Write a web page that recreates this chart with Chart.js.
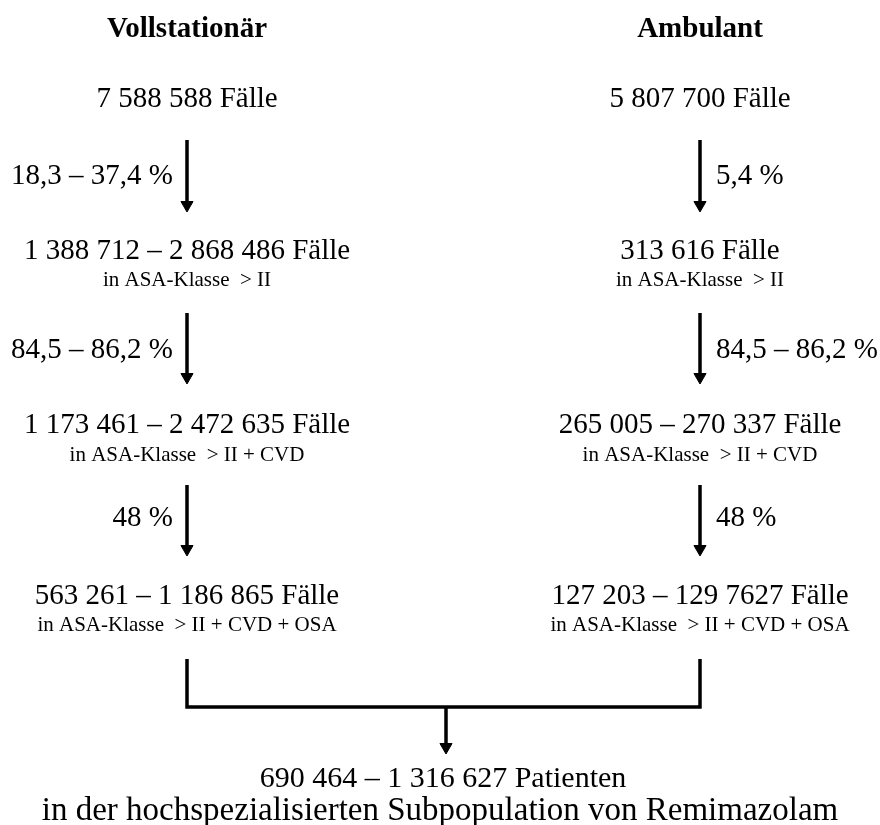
<!DOCTYPE html>
<html>
<head>
<meta charset="utf-8">
<script src="https://cdn.jsdelivr.net/npm/chart.js@4/dist/chart.umd.min.js"></script>
<style>
  html, body { margin: 0; padding: 0; background: #fff; }
  #wrap { width: 880px; height: 825px; }
</style>
</head>
<body>
<div id="wrap"><canvas id="flow"></canvas></div>
<script>
// Flow data
const columnTitles = ['Vollstationär', 'Ambulant'];

const leftCounts = [
    '7 588 588 Fälle',
    '1 388 712 – 2 868 486 Fälle',
    '1 173 461 – 2 472 635 Fälle',
    '563 261 – 1 186 865 Fälle'
];
const rightCounts = [
    '5 807 700 Fälle',
    '313 616 Fälle',
    '265 005 – 270 337 Fälle',
    '127 203 – 129 7627 Fälle'
];
const stepSubtitles = [
    '',
    'in ASA-Klasse  > II',
    'in ASA-Klasse  > II + CVD',
    'in ASA-Klasse  > II + CVD + OSA'
];
const leftRates = ['18,3 – 37,4 %', '84,5 – 86,2 %', '48 %'];
const rightRates = ['5,4 %', '84,5 – 86,2 %', '48 %'];

const totalCount = '690 464 – 1 316 627 Patienten';
const totalSubtitle = 'in der hochspezialisierten Subpopulation von Remimazolam';

// Layout (in scale units = px of the 880x825 page)
const columnX = [187, 700];
const titleY = 30;
const countY = [99, 251, 425, 596];
const subY = [null, 280, 455, 625];
const rateY = [176, 350, 518];
const arrowSpans = [[140, 212], [313, 384], [485, 556]];
const bracketTop = 659;
const bracketBottom = 707;
const totalX = 446;
const totalArrowTip = 754;
const totalY = [779, 811];
const headR = 7;

const FONT = '"Liberation Serif", "Times New Roman", serif';

function arrow(x, top, tip) {
    return {
        type: 'line',
        data: [{ x: x, y: top }, { x: x, y: tip - headR * 1.2 }],
        borderColor: '#000',
        borderWidth: 3.5,
        pointRadius: 0,
        showLine: true,
        clip: false
    };
}

const datasets = [];
const heads = [];
columnX.forEach(x => {
    arrowSpans.forEach(span => {
        datasets.push(arrow(x, span[0], span[1]));
        heads.push({ x: x, y: span[1] - headR });
    });
});

// bracket joining both columns
datasets.push({
    type: 'line',
    data: [
        { x: columnX[0], y: bracketTop },
        { x: columnX[0], y: bracketBottom },
        { x: columnX[1], y: bracketBottom },
        { x: columnX[1], y: bracketTop }
    ],
    borderColor: '#000',
    borderWidth: 3.5,
    pointRadius: 0,
    showLine: true,
    borderJoinStyle: 'miter',
    clip: false
});
datasets.push(arrow(totalX, bracketBottom, totalArrowTip));
heads.push({ x: totalX, y: totalArrowTip - headR });

datasets.push({
    type: 'scatter',
    data: heads,
    pointStyle: 'triangle',
    rotation: 180,
    pointRadius: headR,
    backgroundColor: '#000',
    borderColor: '#000',
    borderWidth: 1,
    clip: false
});

// Text labels drawn on the same scales
const textPlugin = {
    id: 'flowText',
    afterDatasetsDraw(chart) {
        const ctx = chart.ctx;
        const sx = chart.scales.x;
        const sy = chart.scales.y;
        const put = (text, x, y, size, align, bold) => {
            ctx.save();
            ctx.font = (bold ? 'bold ' : '') + size + 'px ' + FONT;
            ctx.fillStyle = '#000';
            ctx.textAlign = align;
            ctx.textBaseline = 'middle';
            ctx.fillText(text, sx.getPixelForValue(x), sy.getPixelForValue(y));
            ctx.restore();
        };

        columnTitles.forEach((t, i) => put(t, columnX[i], titleY, 29, 'center', true));

        [leftCounts, rightCounts].forEach((list, c) => {
            list.forEach((t, i) => {
                put(t, columnX[c], countY[i], 29, 'center');
                if (stepSubtitles[i]) put(stepSubtitles[i], columnX[c], subY[i], 21, 'center');
            });
        });

        leftRates.forEach((t, i) => put(t, columnX[0] - 14, rateY[i], 29, 'right'));
        rightRates.forEach((t, i) => put(t, columnX[1] + 16, rateY[i], 29, 'left'));

        put(totalCount, totalX - 3, totalY[0], 30, 'center');
        put(totalSubtitle, totalX - 6, totalY[1], 33, 'center');
    }
};

new Chart(document.getElementById('flow'), {
    type: 'scatter',
    data: { datasets: datasets },
    options: {
        responsive: true,
        maintainAspectRatio: false,
        animation: false,
        layout: { padding: 0, autoPadding: false },
        plugins: { legend: { display: false }, tooltip: { enabled: false } },
        scales: {
            x: { type: 'linear', min: 0, max: 880, display: false },
            y: { type: 'linear', min: 0, max: 825, reverse: true, display: false }
        }
    },
    plugins: [textPlugin]
});
</script>
</body>
</html>
